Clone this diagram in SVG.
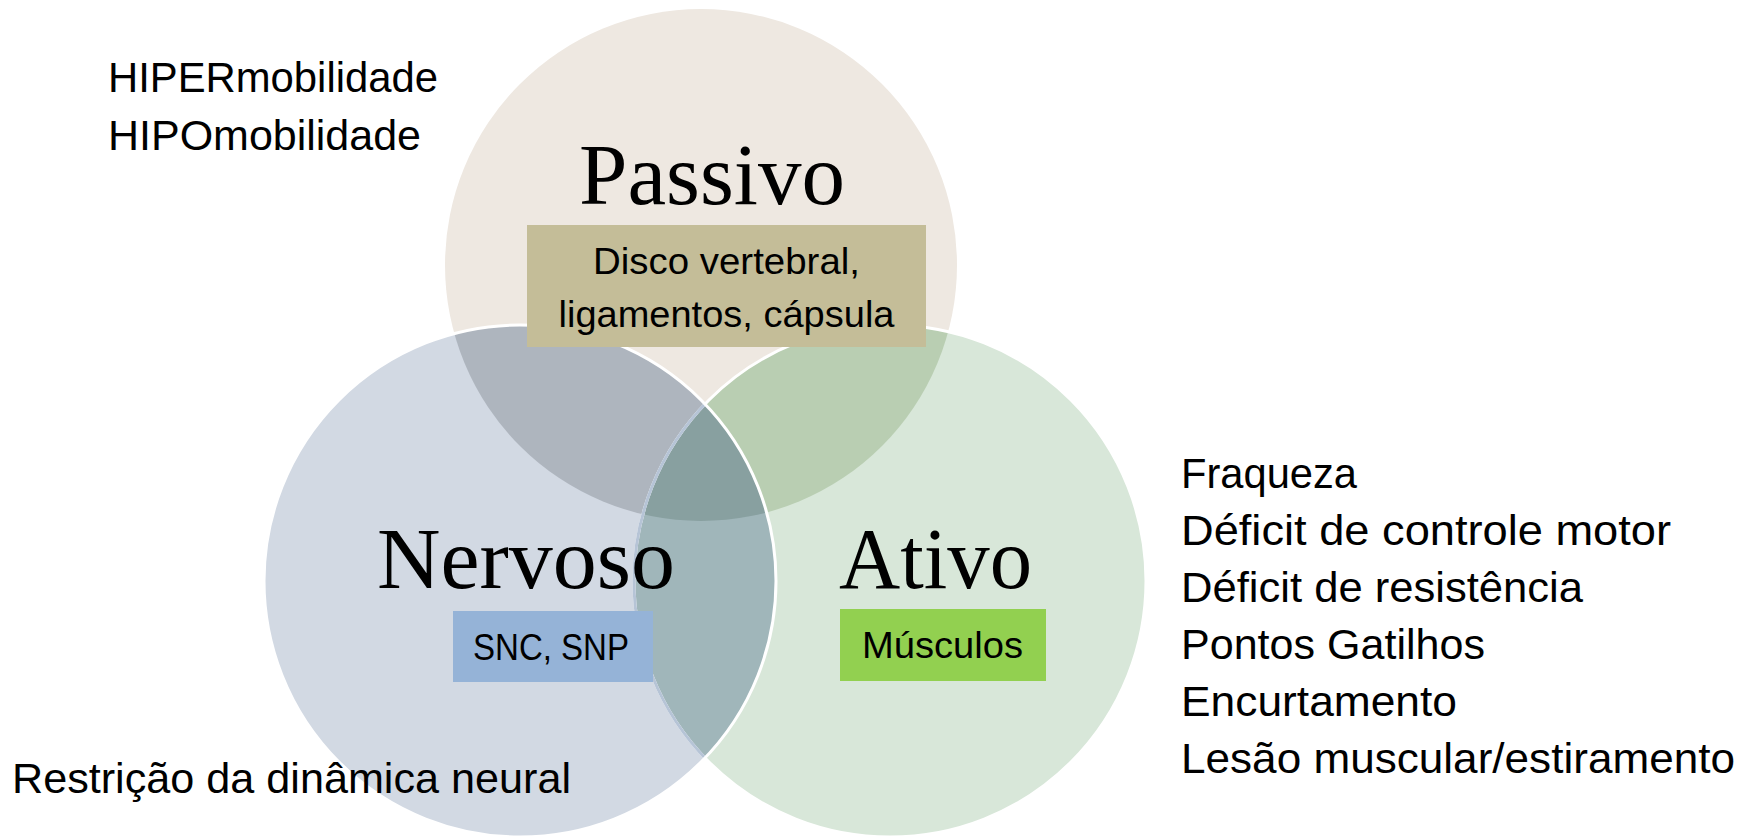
<svg xmlns="http://www.w3.org/2000/svg" width="1750" height="836" viewBox="0 0 1750 836">
<style>
.body{font-family:"Liberation Sans",Arial,sans-serif;font-size:43px;fill:#000}
.box{font-family:"Liberation Sans",Arial,sans-serif;font-size:37.5px;fill:#000}
.title{font-family:"Liberation Serif","Times New Roman",serif;font-size:86px;fill:#000}
</style>
<defs>
<clipPath id="cT"><circle cx="701" cy="265" r="256"/></clipPath>
<clipPath id="cL"><circle cx="520" cy="581" r="256"/></clipPath>
<clipPath id="cR"><circle cx="890" cy="581" r="256"/></clipPath>
</defs>
<rect width="1750" height="836" fill="#fff"/>
<g id="venn">
<circle cx="701" cy="265" r="256" fill="#EEE8E1"/>
<circle cx="890" cy="581" r="256" fill="#D8E7D9"/>
<circle cx="520" cy="581" r="256" fill="#D2D9E3"/>
<circle cx="520" cy="581" r="256" fill="#AEB5BE" clip-path="url(#cT)"/>
<circle cx="890" cy="581" r="256" fill="#B9CEB2" clip-path="url(#cT)"/>
<circle cx="520" cy="581" r="256" fill="#A0B6BA" clip-path="url(#cR)"/>
<g clip-path="url(#cT)"><circle cx="520" cy="581" r="256" fill="#88A0A0" clip-path="url(#cR)"/></g>
<circle cx="890" cy="581" r="256" fill="none" stroke="#fff" stroke-width="3"/>
<circle cx="890" cy="581" r="256" fill="none" stroke="#B6C4D6" stroke-width="3" clip-path="url(#cL)"/>
<circle cx="520" cy="581" r="256" fill="none" stroke="#fff" stroke-width="3"/>
</g>
<g id="passivo">
<text class="title" x="579" y="204" textLength="266" lengthAdjust="spacingAndGlyphs">Passivo</text>
<rect x="527" y="225" width="399" height="122" fill="#C4BD98"/>
<text class="box" x="726.5" y="274" text-anchor="middle" textLength="267" lengthAdjust="spacingAndGlyphs">Disco vertebral,</text>
<text class="box" x="726.5" y="327" text-anchor="middle" textLength="336" lengthAdjust="spacingAndGlyphs">ligamentos, cápsula</text>
</g>
<g id="nervoso">
<text class="title" x="377" y="588" textLength="298" lengthAdjust="spacingAndGlyphs">Nervoso</text>
<rect x="453" y="611" width="200" height="71" fill="#95B3D7"/>
<text class="box" x="551" y="660" text-anchor="middle" textLength="156" lengthAdjust="spacingAndGlyphs">SNC, SNP</text>
</g>
<g id="ativo">
<text class="title" x="839" y="588" textLength="193" lengthAdjust="spacingAndGlyphs">Ativo</text>
<rect x="840" y="609" width="206" height="72" fill="#92D050"/>
<text class="box" x="942.5" y="658" text-anchor="middle" textLength="161" lengthAdjust="spacingAndGlyphs">Músculos</text>
</g>
<g id="mobilidade">
<text class="body" x="108" y="92" textLength="330" lengthAdjust="spacingAndGlyphs">HIPERmobilidade</text>
<text class="body" x="108" y="150" textLength="313" lengthAdjust="spacingAndGlyphs">HIPOmobilidade</text>
</g>
<g id="neural">
<text class="body" x="12" y="793" textLength="559" lengthAdjust="spacingAndGlyphs">Restrição da dinâmica neural</text>
</g>
<g id="ativo-lista">
<text class="body" x="1181" y="488" textLength="176" lengthAdjust="spacingAndGlyphs">Fraqueza</text>
<text class="body" x="1181" y="545" textLength="490" lengthAdjust="spacingAndGlyphs">Déficit de controle motor</text>
<text class="body" x="1181" y="602" textLength="402" lengthAdjust="spacingAndGlyphs">Déficit de resistência</text>
<text class="body" x="1181" y="659" textLength="304" lengthAdjust="spacingAndGlyphs">Pontos Gatilhos</text>
<text class="body" x="1181" y="716" textLength="276" lengthAdjust="spacingAndGlyphs">Encurtamento</text>
<text class="body" x="1181" y="773" textLength="554" lengthAdjust="spacingAndGlyphs">Lesão muscular/estiramento</text>
</g>
<g id="connectors"></g>
</svg>
